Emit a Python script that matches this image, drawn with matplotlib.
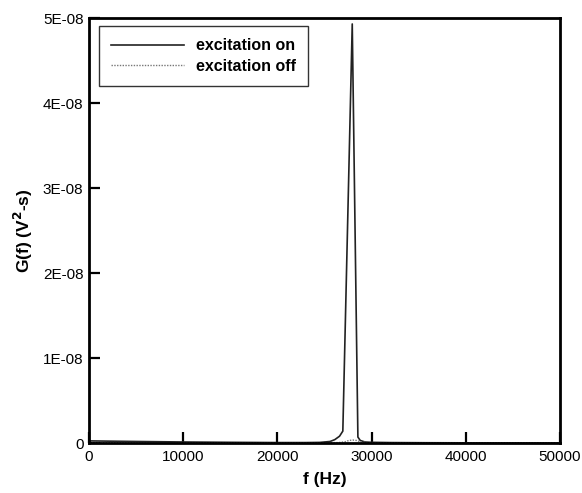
import matplotlib
matplotlib.use("Agg")
import matplotlib.pyplot as plt

plt.rcParams['font.family'] = ['Liberation Sans', 'DejaVu Sans']

freq_on = [0, 2000, 5000, 10000, 15000, 20000, 23000, 24500, 25600, 26100, 26600, 26950,
           27950, 28550, 28800, 29300, 30000, 32000, 36000, 40000, 45000, 50000]
g_on = [0.25e-9, 0.22e-9, 0.18e-9, 0.12e-9, 0.08e-9, 0.05e-9, 0.05e-9, 0.07e-9, 0.18e-9, 0.4e-9,
        0.8e-9, 1.4e-9, 4.93e-8, 0.7e-9, 0.3e-9, 0.12e-9, 0.08e-9, 0.05e-9, 0.03e-9, 0.02e-9,
        0.02e-9, 0.02e-9]

freq_off = [0, 10000, 20000, 26500, 27200, 27600, 28000, 28400, 28800, 29500, 35000, 50000]
g_off = [0.05e-9, 0.03e-9, 0.02e-9, 0.05e-9, 0.15e-9, 0.3e-9, 0.35e-9, 0.3e-9, 0.15e-9,
         0.05e-9, 0.02e-9, 0.02e-9]

x_ticks = [0, 10000, 20000, 30000, 40000, 50000]
y_ticks = [0, 1e-8, 2e-8, 3e-8, 4e-8, 5e-8]
y_tick_labels = ['0', '1E-08', '2E-08', '3E-08', '4E-08', '5E-08']

fig = plt.figure(figsize=(5.82, 4.93), dpi=100)
ax = fig.add_axes([0.153, 0.1014, 0.809, 0.862])

ax.plot(freq_on, g_on, color='#222222', lw=1.2, label='excitation on')
ax.plot(freq_off, g_off, color='#777777', lw=1.0, ls=(0, (1, 1)), label='excitation off')

ax.set_xlim(0, 50000)
ax.set_ylim(0, 5e-8)
ax.set_xticks(x_ticks)
ax.set_xticklabels([str(t) for t in x_ticks])
ax.set_yticks(y_ticks)
ax.set_yticklabels(y_tick_labels)
ax.tick_params(direction='in', length=8, width=1.6, labelsize=11, pad=4)
ax.tick_params(axis='x', pad=5)
for s in ax.spines.values():
    s.set_linewidth(2)

ax.set_xlabel('f (Hz)', fontsize=12.5, fontweight='bold', labelpad=6)
ax.set_ylabel('G(f) (V$^\\mathbf{2}$-s)', fontsize=12.5, fontweight='bold', labelpad=6)

leg = ax.legend(loc='upper left', bbox_to_anchor=(0.021, 0.981), frameon=True, fancybox=False,
                prop={'weight': 'bold', 'size': 11.5}, handlelength=4.6, borderpad=0.75,
                labelspacing=0.35, handletextpad=0.75, borderaxespad=0)
leg.get_frame().set_edgecolor('black')
leg.get_frame().set_linewidth(1.0)

fig.savefig('out.png', dpi=100)
